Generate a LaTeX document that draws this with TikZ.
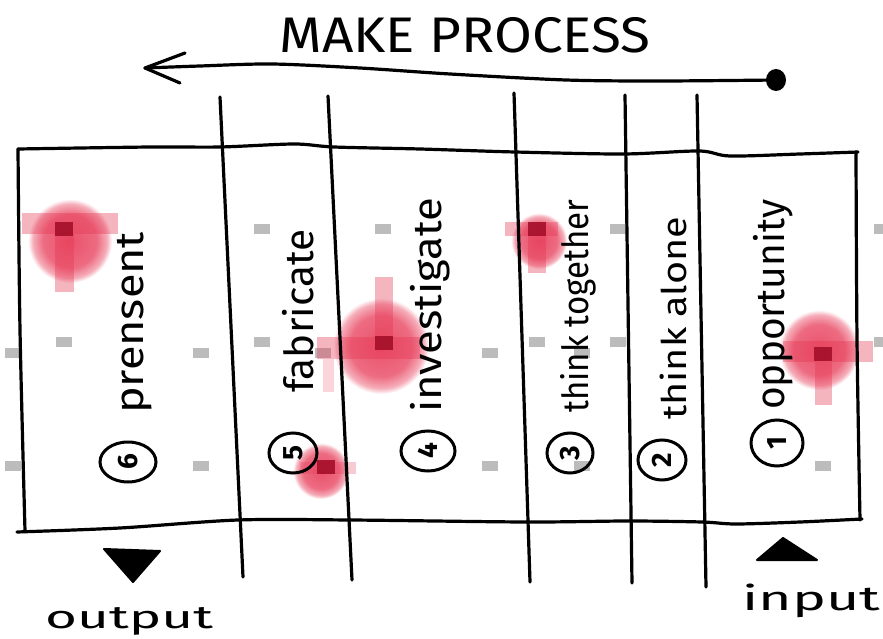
\documentclass[tikz,border=0pt]{standalone}
\usepackage{fontspec}
\setmainfont{Fira Sans}
\usetikzlibrary{shapes.geometric}
\definecolor{blobred}{RGB}{230,50,80}
\definecolor{blobdark}{RGB}{165,15,42}
\definecolor{markgray}{RGB}{188,188,188}
\colorlet{blobA}{blobred!85!white}
\colorlet{blobB}{blobred!72!white}
\colorlet{blobC}{blobred!40!white}
\pgfdeclareradialshading{blobshade}{\pgfpoint{0bp}{0bp}}{color(0bp)=(blobA); color(16bp)=(blobB); color(22bp)=(blobC); color(25bp)=(white); color(50bp)=(white)}
\begin{document}
\begin{tikzpicture}[x=1pt,y=-1pt,
  ink/.style={line width=3.2pt, line cap=round, line join=round},
  numc/.style={ellipse, draw, line width=3pt, rotate=90, minimum width=40pt, minimum height=50pt, inner sep=0pt, font=\fontsize{28}{28}\selectfont\bfseries},
  lab/.style={rotate=90, anchor=base west, inner sep=0pt, font=\fontsize{40}{40}\selectfont},
  mk/.style={fill=markgray},
  bar/.style={fill=blobred, fill opacity=0.36},
  dk/.style={fill=blobdark, fill opacity=0.9}]
\fill[white] (0,0) rectangle (883,639);
\useasboundingbox (0,0) rectangle (883,639);

% red blobs (circles)
\shade[shading=blobshade] (70,241) circle[radius=42pt];
\shade[shading=blobshade] (381,346) circle[radius=48pt];
\shade[shading=blobshade] (539,241) circle[radius=28pt];
\shade[shading=blobshade] (819,350) circle[radius=40pt];
\shade[shading=blobshade] (321,471) circle[radius=28pt];

% gray markers
\foreach \x/\y in {262/229, 383/229, 618/229, 882/229, 64/342, 262/342, 537/342, 618/342, 882/342,
  13/353, 201/353, 323/353, 490/353, 582/353, 13/466, 201/466, 490/466, 582/466, 823/466}
  \fill[mk] ({\x-8},{\y-5}) rectangle ({\x+8},{\y+5});

% blob bars
\fill[bar] (22,213) rectangle (118,234);
\fill[bar] (55,234) rectangle (74,292);
\fill[bar] (317,337) rectangle (420,359);
\fill[bar] (375,277) rectangle (393,337);
\fill[bar, fill opacity=0.2] (323,359) rectangle (334,392);
\fill[bar] (505,222) rectangle (558,236);
\fill[bar] (528,236) rectangle (546,273);
\fill[bar] (783,341) rectangle (873,362);
\fill[bar] (815,362) rectangle (832,405);
\fill[bar, fill opacity=0.25] (300,462) rectangle (356,474);
% dark squares
\foreach \x/\y in {64/229, 537/229, 384/343, 823/354, 326/467}
  \fill[dk] ({\x-9},{\y-7}) rectangle ({\x+9},{\y+7});

% title and process arrow
\node[anchor=base, inner sep=0pt, font=\fontsize{50}{50}\selectfont] (title) at (465,53) {\resizebox{371pt}{\height}{MAKE PROCESS}};
\coordinate (src) at (776,80);
\coordinate (tip) at (145,68);
\draw[ink] plot[smooth] coordinates {(src) (660,81) (566,80) (450,74) (360,68) (272,64) (200,66) (tip)};
\draw[ink] (185,53) -- (tip) -- (180,83);
\fill (src) ellipse[x radius=10pt, y radius=11pt];

% frame
\draw[ink] plot[smooth] coordinates {(18,149) (150,147) (220,147) (294,144) (334,147) (420,149) (515,152) (623,154) (699,151) (730,156) (800,154) (858,152)};
\draw[ink] plot[smooth] coordinates {(17,532) (120,528) (238,520) (351,520) (526,522) (628,521) (702,522) (736,524) (800,522) (862,519)};
\draw[ink] plot[smooth] coordinates {(18,149) (20,330) (25,531)};
\draw[ink] plot[smooth] coordinates {(856,152) (857,340) (860,520)};

% column lines
\draw[ink] (220,97) -- (243,577);
\draw[ink] (328,96) -- (352,580);
\draw[ink] (514,93) -- (530,582);
\draw[ink] (625,95) -- (632,583);
\draw[ink] (697,95) -- (706,587);

% step labels
\node[numc, minimum height=56pt] (c6) at (128,462) {6};
\node[lab] (t6) at (143,414) {\resizebox{182pt}{\height}{prensent}};
\node[numc, minimum height=48pt] (c5) at (293,453) {5};
\node[lab] (t5) at (313,393) {\resizebox{163pt}{\height}{fabricate}};
\node[numc, minimum height=54pt] (c4) at (428,451) {4};
\node[lab] (t4) at (441,413) {\resizebox{215pt}{\height}{investigate}};
\node[numc, minimum height=46pt] (c3) at (570,453) {3};
\node[lab, font=\fontsize{36}{36}\selectfont] (t3) at (588,413) {\resizebox{213pt}{\height}{think together}};
\node[numc, minimum height=48pt] (c2) at (662,460) {2};
\node[lab, font=\fontsize{34}{34}\selectfont] (t2) at (686,420) {\resizebox{203pt}{\height}{think alone}};
\node[numc, minimum height=52pt, minimum width=46pt] (c1) at (777,443) {1};
\node[lab] (t1) at (784,410) {\resizebox{210pt}{\height}{opportunity}};

% output / input
\fill[draw, line width=2pt, line join=round] (104,549) -- (160,551) -- (133,582) -- cycle;
\fill[draw, line width=2pt, line join=round] (757,560) -- (817,560) -- (783,538) -- cycle;
\node[anchor=base west, inner sep=0pt, font=\fontsize{32}{32}\selectfont] (out) at (45,628) {\resizebox{168pt}{\height}{output}};
\node[anchor=base west, inner sep=0pt, font=\fontsize{34}{34}\selectfont] (in) at (742,610) {\resizebox{138pt}{\height}{input}};
\end{tikzpicture}
\end{document}
